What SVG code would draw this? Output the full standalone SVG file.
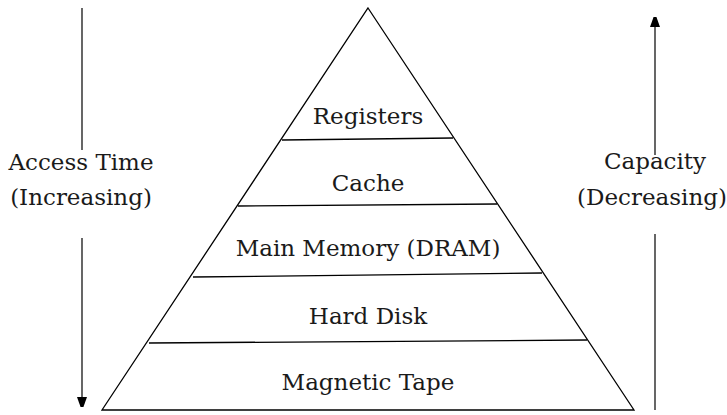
<svg xmlns="http://www.w3.org/2000/svg" width="727" height="415" viewBox="0 0 727 415">
  <style>
    .edge { fill: none; stroke: #000; stroke-width: 1.3; }
    .axis { fill: none; stroke: #000; stroke-width: 1.2; }
    .lbl { font-family: 'DejaVu Serif', 'Liberation Serif', serif; font-size: 23px; fill: #1a1a1a; text-anchor: middle; }
  </style>
  <defs>
    <marker id="head" viewBox="0 0 10 14" refX="0" refY="7" markerWidth="10" markerHeight="14" markerUnits="userSpaceOnUse" orient="auto">
      <path d="M0,2 L14,7 L0,12 Z" fill="#000"/>
    </marker>
  </defs>
  <rect width="727" height="415" fill="#fff"/>

  <!-- pyramid outline -->
  <g id="pyramid">
    <polygon class="edge" points="368,8 634,410 102,410"/>
  </g>

  <!-- tiers -->
  <g id="registers">
    <line class="edge" x1="282" y1="140" x2="453" y2="138"/>
    <text class="lbl" x="368" y="124">Registers</text>
  </g>
  <g id="cache">
    <line class="edge" x1="238" y1="206" x2="497" y2="204"/>
    <text class="lbl" x="368" y="191">Cache</text>
  </g>
  <g id="main-memory">
    <line class="edge" x1="193" y1="277" x2="542" y2="273"/>
    <text class="lbl" x="368" y="256">Main Memory (DRAM)</text>
  </g>
  <g id="hard-disk">
    <line class="edge" x1="149" y1="343" x2="587" y2="340"/>
    <text class="lbl" x="368" y="324">Hard Disk</text>
  </g>
  <g id="magnetic-tape">
    <text class="lbl" x="368" y="390">Magnetic Tape</text>
  </g>

  <!-- side axes -->
  <g id="connectors">
    <line class="axis" x1="82" y1="8" x2="82" y2="150"/>
    <line class="axis" x1="82" y1="238" x2="82" y2="397" marker-end="url(#head)"/>
    <line class="axis" x1="655" y1="155" x2="655" y2="27" marker-end="url(#head)"/>
    <line class="axis" x1="655" y1="234" x2="655" y2="410"/>
  </g>

  <g id="access-time">
    <text class="lbl" x="81" y="170">Access Time</text>
    <text class="lbl" x="81" y="205">(Increasing)</text>
  </g>
  <g id="capacity">
    <text class="lbl" x="655" y="169">Capacity</text>
    <text class="lbl" x="652" y="205">(Decreasing)</text>
  </g>
</svg>
